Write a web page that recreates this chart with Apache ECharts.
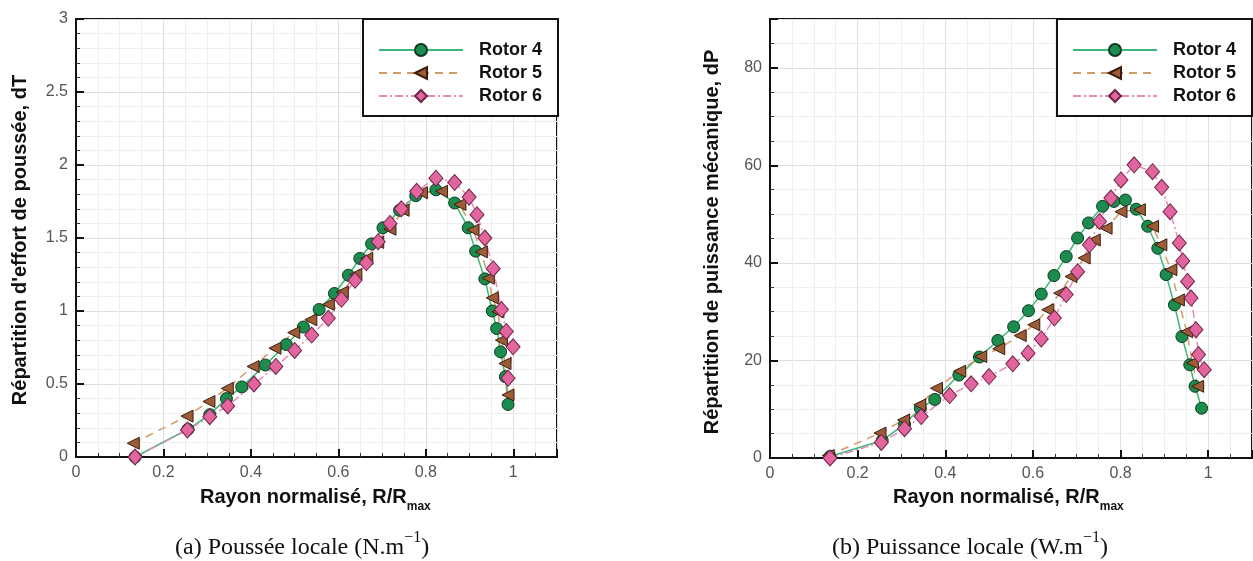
<!DOCTYPE html>
<html><head><meta charset="utf-8">
<script src="https://cdn.jsdelivr.net/npm/echarts@6/dist/echarts.min.js"></script>
<style>html,body{margin:0;padding:0;background:#fff}#c{width:1253px;height:561px}</style>
</head><body><div id="c"></div>
<script>
// ---- data ----
const seriesNames = ['Rotor 4', 'Rotor 5', 'Rotor 6'];

// (a) thrust distribution dT
const r4_dT_x = [0.135,0.256,0.306,0.344,0.379,0.433,0.481,0.520,0.556,0.591,0.623,0.649,0.676,0.702,0.740,0.777,0.823,0.866,0.897,0.914,0.935,0.952,0.962,0.971,0.982,0.988];
const r4_dT_y = [0.00,0.19,0.29,0.40,0.48,0.63,0.77,0.89,1.01,1.12,1.245,1.36,1.46,1.57,1.69,1.79,1.83,1.74,1.57,1.41,1.22,1.00,0.88,0.72,0.55,0.36];
const r5_dT_x = [0.131,0.254,0.304,0.346,0.405,0.455,0.498,0.537,0.577,0.609,0.640,0.665,0.690,0.718,0.748,0.790,0.836,0.878,0.908,0.927,0.943,0.952,0.965,0.973,0.981,0.988];
const r5_dT_y = [0.094,0.28,0.38,0.47,0.62,0.745,0.852,0.94,1.045,1.13,1.25,1.36,1.47,1.56,1.69,1.81,1.82,1.73,1.555,1.405,1.225,1.09,0.995,0.80,0.64,0.425];
const r6_dT_x = [0.135,0.255,0.306,0.347,0.407,0.457,0.500,0.539,0.577,0.607,0.638,0.664,0.691,0.718,0.744,0.779,0.823,0.866,0.899,0.917,0.935,0.954,0.973,0.984,0.9996,0.988];
const r6_dT_y = [0.00,0.185,0.276,0.35,0.50,0.62,0.73,0.835,0.95,1.08,1.21,1.33,1.475,1.60,1.70,1.82,1.91,1.88,1.78,1.66,1.50,1.29,1.01,0.86,0.755,0.54];

// (b) power distribution dP
const r4_dP_x = [0.137,0.256,0.307,0.343,0.376,0.431,0.478,0.520,0.556,0.590,0.619,0.648,0.676,0.702,0.727,0.759,0.785,0.811,0.836,0.862,0.885,0.904,0.923,0.940,0.958,0.970,0.985];
const r4_dP_y = [0.3,3.6,6.9,10.2,12.0,17.0,20.7,24.1,26.9,30.2,33.6,37.4,41.3,45.1,48.2,51.6,52.6,52.9,51.0,47.5,43.0,37.6,31.4,24.9,19.1,14.7,10.2];
const r5_dP_x = [0.133,0.251,0.305,0.342,0.380,0.433,0.481,0.522,0.571,0.602,0.634,0.661,0.687,0.717,0.740,0.767,0.801,0.843,0.873,0.892,0.915,0.932,0.951,0.964,0.976];
const r5_dP_y = [0.5,5.1,7.8,10.9,14.3,17.8,20.8,22.4,25.1,27.3,30.4,33.8,37.2,41.0,44.7,47.1,50.5,50.9,47.5,43.7,38.6,32.4,25.9,19.5,14.7];
const r6_dP_x = [0.137,0.254,0.307,0.345,0.410,0.459,0.500,0.554,0.589,0.619,0.649,0.676,0.702,0.729,0.752,0.778,0.801,0.831,0.873,0.894,0.913,0.934,0.942,0.953,0.961,0.972,0.978,0.991];
const r6_dP_y = [0.0,3.2,6.0,8.5,12.8,15.2,16.7,19.3,21.5,24.4,28.7,33.5,38.2,43.7,48.5,53.3,57.0,60.1,58.7,55.5,50.5,44.1,40.4,36.2,32.8,26.3,21.2,18.1];

// axes / ticks
const xRange = [0, 1.1], xStep = 0.2;
const dT_range = [0, 3], dT_step = 0.5;
const dP_range = [0, 90], dP_step = 20;

// texts
const yTitleA = "Répartition d'effort de poussée, dT";
const yTitleB = "Répartition de puissance mécanique, dP";
const xTitleMain = 'Rayon normalisé, R/R';
const xTitleSub = 'max';
const captionA = ['(a) Poussée locale (N.m', '−1', ')'];
const captionB = ['(b) Puissance locale (W.m', '−1', ')'];

// ---- build ----
const zip = (xs, ys) => xs.map((x, i) => [x, ys[i]]);
const SANS = '"Liberation Sans", Arial, sans-serif';
const SERIF = '"Liberation Serif", "Times New Roman", serif';

const styles = [
  { symbol: 'circle', symbolSize: 12, symbolRotate: 0,
    itemStyle: { color: '#1c8c4e', borderColor: '#0b3a20', borderWidth: 1 },
    lineStyle: { color: '#3bb877', width: 1.5, type: 'solid' } },
  { symbol: 'triangle', symbolSize: 12, symbolRotate: 90,
    itemStyle: { color: '#9c5c38', borderColor: '#3a1d0e', borderWidth: 1 },
    lineStyle: { color: '#d39a66', width: 1.5, type: [8, 6] } },
  { symbol: 'diamond', symbolSize: [14, 16], symbolRotate: 0,
    itemStyle: { color: '#e2659f', borderColor: '#6e2548', borderWidth: 1 },
    lineStyle: { color: '#e88ab6', width: 1.5, type: [8, 3, 2, 3] } }
];

function mkSeries(name, idx, data, st) {
  return Object.assign({ name, type: 'line', xAxisIndex: idx, yAxisIndex: idx, data,
    showAllSymbol: true, z: 3 }, st);
}

const series = [
  mkSeries(seriesNames[0], 0, zip(r4_dT_x, r4_dT_y), styles[0]),
  mkSeries(seriesNames[1], 0, zip(r5_dT_x, r5_dT_y), styles[1]),
  mkSeries(seriesNames[2], 0, zip(r6_dT_x, r6_dT_y), styles[2]),
  mkSeries(seriesNames[0], 1, zip(r4_dP_x, r4_dP_y), styles[0]),
  mkSeries(seriesNames[1], 1, zip(r5_dP_x, r5_dP_y), styles[1]),
  mkSeries(seriesNames[2], 1, zip(r6_dP_x, r6_dP_y), styles[2])
];

function mkAxis(idx, range, step, minorSplit, showMax) {
  return {
    gridIndex: idx, type: 'value', min: range[0], max: range[1], interval: step,
    axisLine: { show: true, onZero: false, lineStyle: { color: '#111', width: 2 } },
    axisTick: { show: true, inside: true, length: 8, lineStyle: { color: '#111', width: 2 } },
    minorTick: { show: true, splitNumber: minorSplit, length: 4, lineStyle: { color: '#333', width: 1 } },
    splitLine: { show: true, lineStyle: { color: '#dedede', width: 1 } },
    minorSplitLine: { show: true, lineStyle: { color: '#eeeeee', width: 1 } },
    axisLabel: { color: '#555', fontSize: 16, fontFamily: SANS, margin: 8, showMaxLabel: showMax }
  };
}

function mkLegend(left) {
  return {
    orient: 'vertical', left: left, top: 19,
    data: seriesNames,
    itemWidth: 84, itemHeight: 15, itemGap: 5,
    padding: [22, 16, 11, 15],
    backgroundColor: '#fff', borderColor: '#111', borderWidth: 2, borderRadius: 0,
    selectedMode: false,
    textStyle: { fontFamily: SANS, fontWeight: 'bold', fontSize: 18, color: '#111',
      padding: [0, 0, 0, 11] }
  };
}

function yTitle(x, y, text) {
  return { type: 'text', x: x, y: y, rotation: Math.PI / 2, z: 10,
    style: { text: text, font: 'bold 20px ' + SANS, fill: '#111',
      align: 'center', verticalAlign: 'middle' } };
}
function xTitle(x, y) {
  return { type: 'text', x: x, y: y, z: 10,
    style: { text: '{a|' + xTitleMain + '}{b|' + xTitleSub + '}',
      align: 'left', verticalAlign: 'middle',
      rich: {
        a: { font: 'bold 20px ' + SANS, fill: '#111', verticalAlign: 'top', padding: [0, 0, 5, 0] },
        b: { font: 'bold 12px ' + SANS, fill: '#111', verticalAlign: 'bottom' }
      } } };
}
function caption(x, y, parts) {
  return { type: 'text', x: x, y: y, z: 10,
    style: { text: '{a|' + parts[0] + '}{s|' + parts[1] + '}{a|' + parts[2] + '}',
      align: 'left', verticalAlign: 'middle',
      rich: {
        a: { font: '24px ' + SERIF, fill: '#111', verticalAlign: 'bottom', padding: [6, 0, 0, 0] },
        s: { font: '16px ' + SERIF, fill: '#111', verticalAlign: 'top' }
      } } };
}

const option = {
  animation: false,
  backgroundColor: '#fff',
  grid: [
    { left: 76, top: 19, width: 481, height: 438, show: true, borderColor: '#111', borderWidth: 2, backgroundColor: '#fff' },
    { left: 770, top: 19, width: 482, height: 439, show: true, borderColor: '#111', borderWidth: 2, backgroundColor: '#fff' }
  ],
  xAxis: [ mkAxis(0, xRange, xStep, 4, false), mkAxis(1, xRange, xStep, 4, false) ],
  yAxis: [ mkAxis(0, dT_range, dT_step, 5, true), mkAxis(1, dP_range, dP_step, 4, false) ],
  legend: [ mkLegend(363), mkLegend(1057) ],
  series: series,
  graphic: [
    yTitle(20, 240, yTitleA),
    yTitle(712, 242, yTitleB),
    xTitle(200, 500),
    xTitle(893, 500),
    caption(175, 545, captionA),
    caption(832, 545, captionB)
  ]
};

const chart = echarts.init(document.getElementById('c'), null, { renderer: 'canvas' });
chart.setOption(option);
</script>
</body></html>
